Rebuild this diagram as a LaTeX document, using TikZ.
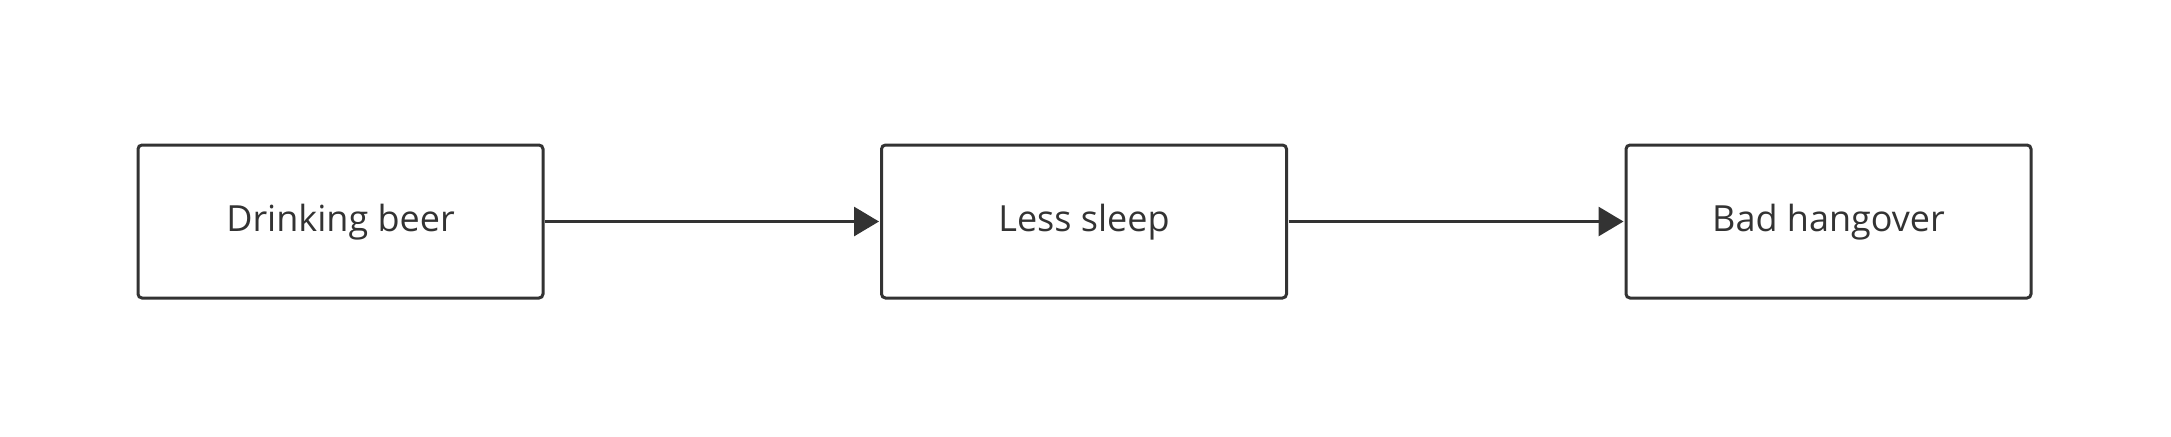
\documentclass[tikz,border=0pt]{standalone}
\usepackage{fontspec}
\setmainfont{Open Sans}
\usetikzlibrary{arrows.meta}
\definecolor{ink}{HTML}{333333}
\begin{document}
\begin{tikzpicture}[x=0.5pt,y=-0.5pt,
  box/.style={draw=ink, line width=1.5pt, rounded corners=2pt, minimum width=202.5pt, minimum height=76.5pt, inner sep=0pt, text=ink, text height=13pt, text depth=3pt, font=\fontsize{18}{22}\selectfont},
  conn/.style={draw=ink, line width=1.5pt, -{Triangle[length=12.5pt,width=14.5pt]}, shorten <=0.3pt, shorten >=0.5pt}]
\useasboundingbox (0,0) rectangle (2171,436);
\node[box] (a) at (340.5,221.5) {Drinking beer};
\node[box] (b) at (1084,221.5) {Less sleep};
\node[box] (c) at (1828.5,221.5) {Bad hangover};
\draw[conn] (a) -- (b);
\draw[conn] (b) -- (c);
\end{tikzpicture}
\end{document}
